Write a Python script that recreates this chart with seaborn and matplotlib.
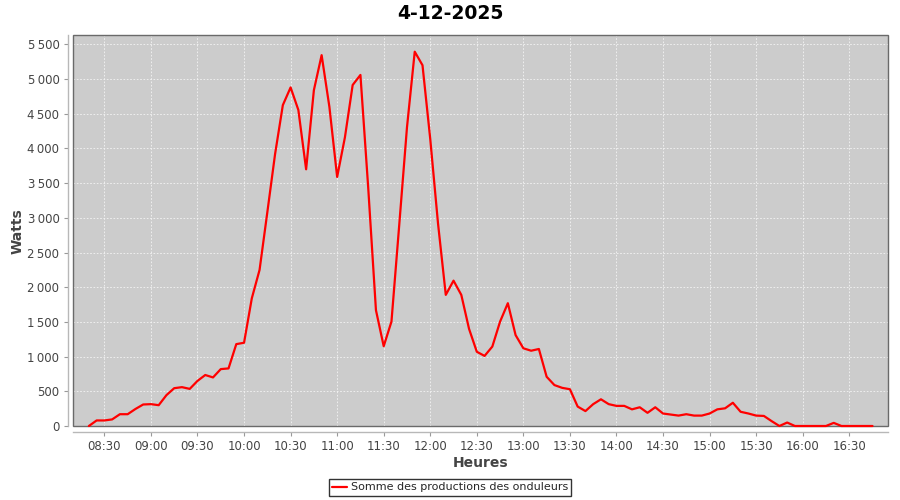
import pandas as pd
import matplotlib
matplotlib.use("Agg")
import matplotlib.pyplot as plt
import matplotlib.dates as mdates
from matplotlib.patches import Rectangle
from matplotlib.ticker import FuncFormatter, MultipleLocator
import seaborn as sns

# Data: one reading every 5 minutes, 08:20 -> 16:45
start_time = "2025-12-04 08:20"
step = "5min"
watts = [
    0, 80, 80, 95, 170, 170, 245, 310, 315, 300,
    445, 545, 560, 535, 650, 735, 700, 820, 830, 1180,
    1200, 1840, 2250, 3080, 3920, 4625, 4880, 4555, 3700, 4840,
    5345, 4600, 3590, 4160, 4915, 5060, 3440, 1670, 1150, 1505,
    2895, 4305, 5395, 5200, 4135, 2920, 1890, 2095, 1890, 1400,
    1070, 1010, 1145, 1505, 1770, 1310, 1120, 1085, 1110, 710,
    590, 550, 530, 280, 215, 315, 385, 315, 290, 290,
    240, 270, 190, 270, 180, 165, 150, 170, 150, 150,
    180, 240, 255, 335, 205, 180, 150, 145, 70, 0,
    50, 0, 0, 0, 0, 0, 45, 0, 0, 0,
    0, 0,
]
series_name = "Somme des productions des onduleurs"
title = "4-12-2025"

df = pd.DataFrame({
    "Heures": pd.date_range(start_time, periods=len(watts), freq=step),
    "Watts": watts,
})
df["serie"] = series_name

sns.set_theme(style="white")
plt.rcParams["font.family"] = ["DejaVu Sans"]

fig = plt.figure(figsize=(9, 5), dpi=100)
ax = fig.add_axes([0.0815, 0.148, 0.9052, 0.7812])
ax.set_facecolor("#cccccc")

sns.lineplot(data=df, x="Heures", y="Watts", hue="serie", palette=["#ff0000"],
             linewidth=1.6, ax=ax, legend=False, clip_on=False, zorder=5)

ax.set_xlim(pd.Timestamp("2025-12-04 08:10"), pd.Timestamp("2025-12-04 16:55"))
ax.set_ylim(0, 5630)

ax.xaxis.set_major_locator(mdates.MinuteLocator(byminute=[0, 30]))
ax.xaxis.set_major_formatter(mdates.DateFormatter("%H:%M"))
ax.yaxis.set_major_locator(MultipleLocator(500))
ax.yaxis.set_major_formatter(FuncFormatter(lambda v, p: f"{int(v):,}".replace(",", "\u2009")))

ax.grid(True, color="#f4f4f4", linestyle=(0, (2, 2)), linewidth=0.6)
ax.set_axisbelow(True)

for s in ["top", "right"]:
    ax.spines[s].set_visible(False)
for s in ["left", "bottom"]:
    ax.spines[s].set_position(("outward", 4))
    ax.spines[s].set_color("#b8b8b8")
    ax.spines[s].set_linewidth(1)

ax.tick_params(axis="both", which="major", direction="out", length=3, width=0.8,
               color="#999999", labelcolor="#444444", labelsize=8.5, pad=3)
ax.tick_params(left=True, bottom=True)

# plot border
ax.add_patch(Rectangle((0, 0), 1, 1, transform=ax.transAxes, fill=False,
                       edgecolor="#6a6a6a", linewidth=1, zorder=4, clip_on=False))

ax.set_xlabel("Heures", fontsize=10, fontweight="bold", color="#444444", labelpad=2)
ax.set_ylabel("Watts", fontsize=10, fontweight="bold", color="#444444", labelpad=2)
fig.suptitle(title, fontsize=13.5, fontweight="bold", color="black", y=0.973, va="center")

handle = plt.Line2D([], [], color="#ff0000", linewidth=1.6)
leg = fig.legend([handle], [series_name], loc="center", bbox_to_anchor=(0.5, 0.025),
                 frameon=True, fancybox=False, fontsize=8, handlelength=1.4,
                 handletextpad=0.3, borderpad=0.3, borderaxespad=0)
leg.get_frame().set_edgecolor("black")
leg.get_frame().set_linewidth(1)

fig.savefig("out.png", dpi=100)
